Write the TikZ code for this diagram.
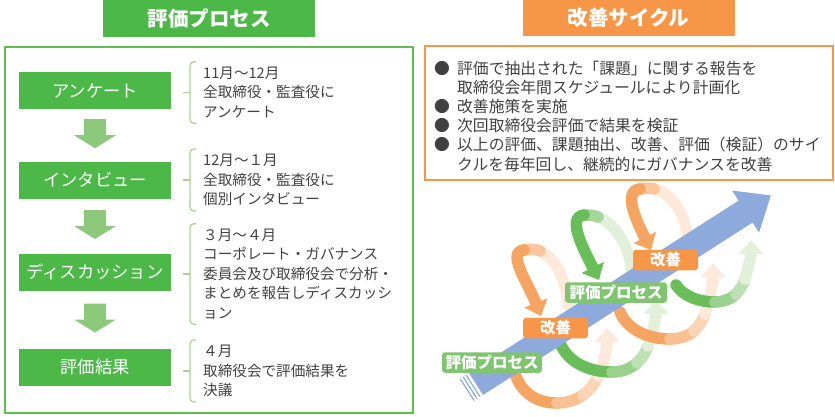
\documentclass[tikz,border=0pt]{standalone}
\usepackage{fontspec}
\setmainfont{Noto Sans CJK JP}
\usepackage{tikz}
\usetikzlibrary{arrows.meta, calc}
\definecolor{procgreen}{HTML}{4CB848}
\definecolor{framegreen}{HTML}{5CBF4F}
\definecolor{arrowgreen}{HTML}{8CC97A}
\definecolor{bracegreen}{HTML}{A9D490}
\definecolor{textgray}{HTML}{404040}
\definecolor{cycorange}{HTML}{F79646}
\definecolor{ribborange}{HTML}{F6A462}
\definecolor{paleorange}{HTML}{FDE9D9}
\definecolor{ribbgreen}{HTML}{6ABE5A}
\definecolor{palegreen}{HTML}{E2F0D9}
\definecolor{labelgreen}{HTML}{7FC46F}
\definecolor{shaftblue}{HTML}{8EA9DB}
\tikzset{title box/.style={minimum width=212pt,minimum height=37pt,inner sep=0pt,text=white,font=\fontsize{20.5}{24}\selectfont\bfseries}}
\tikzset{step box/.style={fill=procgreen,minimum width=152pt,minimum height=37pt,inner sep=0pt,text=white,font=\fontsize{17.3}{20}\selectfont}}
\tikzset{detail/.style={anchor=west,align=left,inner xsep=2pt,inner ysep=5pt,text=textgray,font=\fontsize{14.6}{19.5}\selectfont}}
\tikzset{bullets/.style={anchor=west,align=left,inner sep=0pt,text=textgray,font=\fontsize{15.8}{19.2}\selectfont}}
\tikzset{brace/.style={bracegreen,line width=1.3pt,rounded corners=4pt}}
\tikzset{ribbon/.style={line width=11.5pt,line cap=round}}
\tikzset{ribbon tip/.style={-{Triangle[width=24pt,length=14pt]}}}
\tikzset{cycle label/.style={rounded corners=3pt,inner sep=0pt,minimum height=20.5pt,text=white,font=\fontsize{15.5}{18}\selectfont\bfseries}}
\tikzset{down arrow/.pic={\fill[arrowgreen] (-11,-16) -- (11,-16) -- (11,0) -- (21,0) -- (0,13) -- (-21,0) -- (-11,0) -- cycle;}}
\newcommand{\detailbrace}[1]{%
  \draw[brace] ([xshift=-5pt]#1.north west) -- ([xshift=-11pt]#1.north west) -- ([xshift=-11pt]#1.south west) -- ([xshift=-5pt]#1.south west);
  \draw[brace] ([xshift=-11pt]#1.west) -- ([xshift=-18pt]#1.west);}
\newcommand{\bul}{\makebox[23pt][l]{●}}
\begin{document}
\begin{tikzpicture}[x=1pt,y=-1pt]
\useasboundingbox (0,0) rectangle (835,417);

% evaluation process
\node[title box,fill=procgreen](T1) at (209,18.5) {評価プロセス};
\draw[framegreen,line width=2pt] (5,47) rectangle (413,413);
\node[step box](S1) at (95,90.5) {アンケート};
\node[step box](S2) at (95,180) {インタビュー};
\node[step box](S3) at (95,272) {ディスカッション};
\node[step box](S4) at (95,367) {評価結果};
\pic at ($(S1.south)!0.5!(S2.north)$) {down arrow};
\pic at ($(S2.south)!0.5!(S3.north)$) {down arrow};
\pic at ($(S3.south)!0.5!(S4.north)$) {down arrow};

\node[detail](D1) at (201,92.5) {11月～12月\\全取締役・監査役に\\アンケート};
\node[detail](D2) at (201,180) {12月～１月\\全取締役・監査役に\\個別インタビュー};
\node[detail](D3) at (201,274) {３月～４月\\コーポレート・ガバナンス\\委員会及び取締役会で分析・\\まとめを報告しディスカッシ\\ョン};
\node[detail](D4) at (201,371) {４月\\取締役会で評価結果を\\決議};
\detailbrace{D1}
\detailbrace{D2}
\detailbrace{D3}
\detailbrace{D4}

% improvement cycle
\node[title box,fill=cycorange](T2) at (628.5,18) {改善サイクル};
\draw[cycorange,line width=2pt] (425,46) rectangle (833,180);
\node[bullets](B) at (434,116) {\bul 評価で抽出された「課題」に関する報告を\\
\hspace*{23pt}取締役会年間スケジュールにより計画化\\
\bul 改善施策を実施\\
\bul 次回取締役会評価で結果を検証\\
\bul 以上の評価、課題抽出、改善、評価（検証）のサイ\\
\hspace*{23pt}クルを毎年回し、継続的にガバナンスを改善};

% spiral round the arrow
\draw[ribbon,ribborange] (514,370) .. controls (520,394) and (538,403) .. (557,403);
\draw[ribbon,ribborange!60!paleorange] (557,403) .. controls (567,403) and (576,400) .. (583,395);
\draw[ribbon,ribborange!30!paleorange] (583,395) .. controls (590,390) and (595,383) .. (598,376);
\draw[ribbon,ribbon tip,paleorange] (598,376) .. controls (603,365) and (607,350) .. (607,328);
\draw[ribbon,paleorange] (568,305) .. controls (566,280) and (556,258) .. (540,251);
\draw[ribbon,ribborange!50!paleorange] (540,251) .. controls (535,249) and (530,249) .. (524,250);
\draw[ribbon,ribbon tip,ribborange] (524,250) .. controls (506,252) and (528,283) .. (541,316);

\draw[ribbon,ribbgreen] (560,343) .. controls (568,363) and (590,372) .. (612,372);
\draw[ribbon,ribbgreen!60!palegreen] (612,372) .. controls (622,372) and (630,369) .. (637,363);
\draw[ribbon,ribbgreen!30!palegreen] (637,363) .. controls (642,358) and (646,352) .. (648,346);
\draw[ribbon,ribbon tip,palegreen] (648,346) .. controls (652,334) and (656,320) .. (656,300);
\draw[ribbon,palegreen] (632,272) .. controls (630,248) and (616,224) .. (598,217);
\draw[ribbon,ribbgreen!50!palegreen] (598,217) .. controls (593,215) and (589,215) .. (584,215);
\draw[ribbon,ribbon tip,ribbgreen] (584,215) .. controls (566,217) and (584,250) .. (599,280);

\draw[ribbon,ribborange] (620,312) .. controls (628,331) and (650,339) .. (670,339);
\draw[ribbon,ribborange!60!paleorange] (670,339) .. controls (680,339) and (688,336) .. (694,331);
\draw[ribbon,ribborange!30!paleorange] (694,331) .. controls (699,326) and (703,320) .. (705,314);
\draw[ribbon,ribbon tip,paleorange] (705,314) .. controls (709,301) and (713,285) .. (713,263);
\draw[ribbon,paleorange] (688,238) .. controls (685,214) and (672,193) .. (654,189);
\draw[ribbon,ribborange!50!paleorange] (654,189) .. controls (649,188) and (645,188) .. (640,189);
\draw[ribbon,ribbon tip,ribborange] (640,189) .. controls (622,191) and (637,222) .. (651,250);

\draw[ribbon,ribbgreen] (676,285) .. controls (684,297) and (700,302) .. (715,302);
\draw[ribbon,ribbgreen!60!palegreen] (715,302) .. controls (723,302) and (731,299) .. (736,294);
\draw[ribbon,ribbgreen!30!palegreen] (736,294) .. controls (740,290) and (743,285) .. (745,279);
\draw[ribbon,ribbon tip,palegreen] (745,279) .. controls (748,268) and (751,257) .. (751,240);

\begin{scope}[shift={(476,384)},rotate=32.6]
  \fill[shaftblue] (0,-13) -- (320,-13) -- (320,-25) -- (350,0) -- (320,25) -- (320,13) -- (0,13) -- cycle;
  \draw[shaftblue,line width=1.2pt] (-3.5,-13) -- (-3.5,13);
  \draw[shaftblue,line width=1.2pt] (-7,-13) -- (-7,13);
  \draw[shaftblue,line width=1.2pt] (-10.5,-13) -- (-10.5,13);
\end{scope}

\node[cycle label,fill=labelgreen,minimum width=100pt](P1) at (492,362.5) {評価プロセス};
\node[cycle label,fill=cycorange,minimum width=65pt](K1) at (555.5,328) {改善};
\node[cycle label,fill=labelgreen,minimum width=102pt](P2) at (616,292.5) {評価プロセス};
\node[cycle label,fill=cycorange,minimum width=65pt](K2) at (665.5,260) {改善};
\end{tikzpicture}
\end{document}
